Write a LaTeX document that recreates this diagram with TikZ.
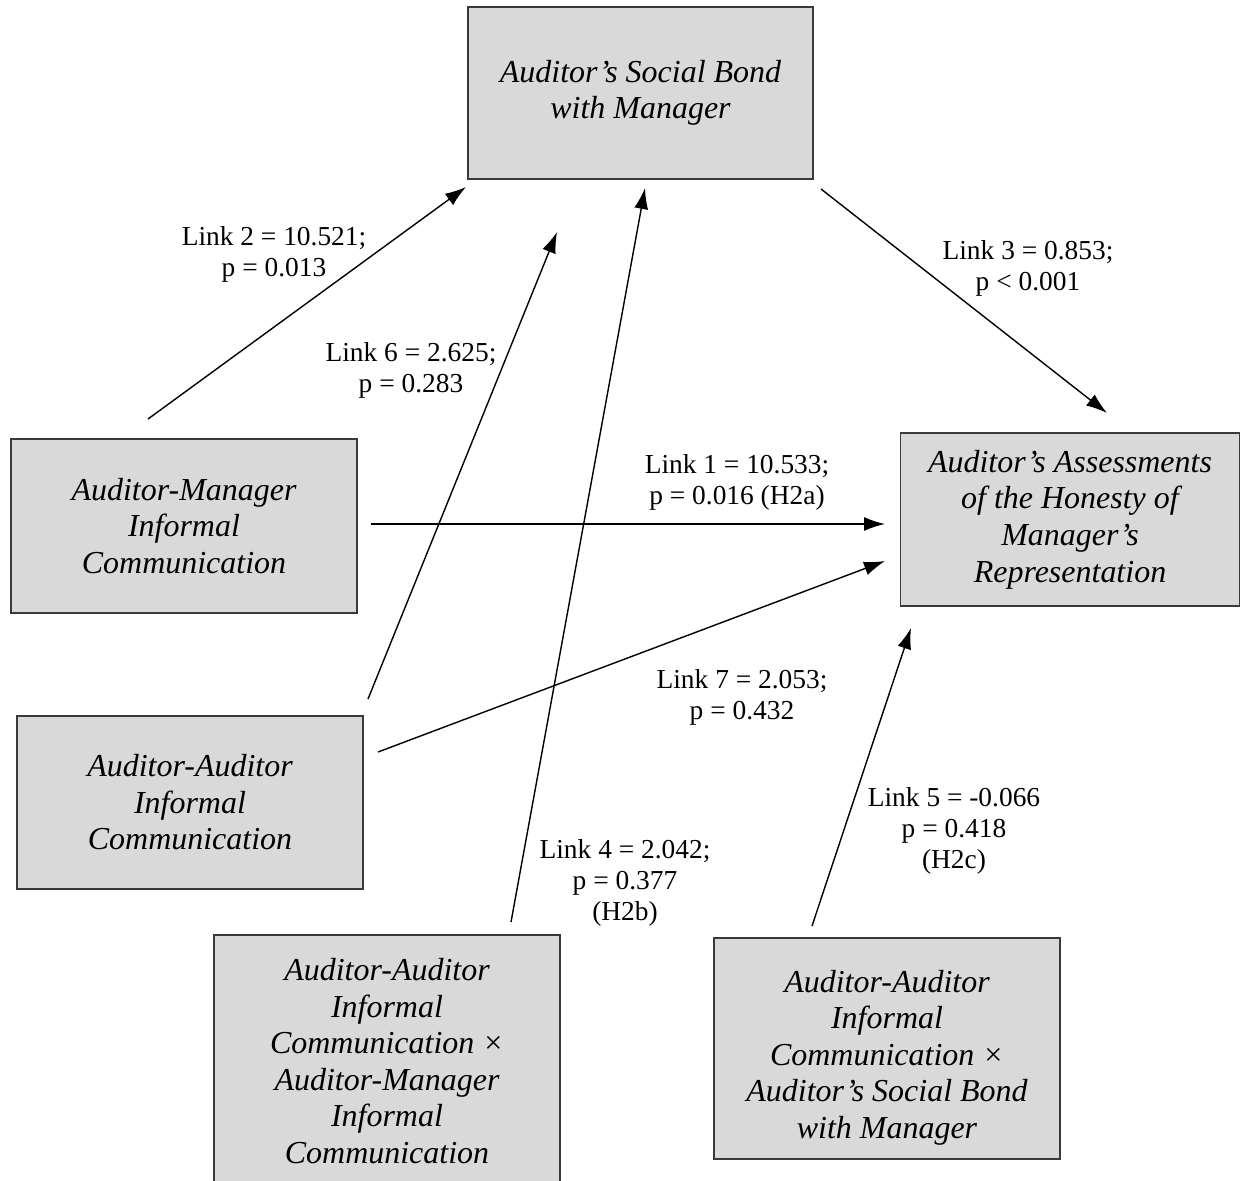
\documentclass[tikz,border=0pt]{standalone}
\usepackage{fontspec}
\setmainfont{Liberation Serif}
\usetikzlibrary{arrows.meta,positioning}

\definecolor{boxgray}{HTML}{D9D9D9}
\definecolor{edgegray}{HTML}{3A3A3A}

\tikzset{
  factor/.style={draw=edgegray, line width=0.8pt, fill=boxgray, align=center,
    inner sep=0pt, font=\fontsize{18.2}{20.8}\selectfont\itshape},
  est/.style={align=center, inner sep=0pt, font=\fontsize{15.6}{17.6}\selectfont},
  link/.style={-{Latex[length=4.2mm,width=2.8mm]}, line width=0.8pt}
}

\begin{document}
\begin{tikzpicture}[x=0.02cm, y=-0.02cm]
    \useasboundingbox (0,0) rectangle (1243,1180);

    % the constructs
    \node[factor, minimum width=6.9cm, minimum height=3.44cm] (bond) at (640.5,93)
        {Auditor’s Social Bond\\with Manager};
    \node[factor, minimum width=6.78cm, minimum height=3.46cm] (honesty) at (1070,519.5)
        {Auditor’s Assessments\\of the Honesty of\\Manager’s\\Representation};
    \node[factor, minimum width=6.92cm, minimum height=3.48cm] (amic) at (184,526)
        {Auditor-Manager\\Informal\\Communication};
    \node[factor, minimum width=6.92cm, minimum height=3.46cm] (aaic) at (190,802.5)
        {Auditor-Auditor\\Informal\\Communication};
    \node[factor, minimum width=6.92cm, minimum height=5.04cm] (aaxam) at (387,1061)
        {Auditor-Auditor\\Informal\\Communication ×\\Auditor-Manager\\Informal\\Communication};
    \node[factor, minimum width=6.92cm, minimum height=4.42cm] (aaxbond) at (887,1048.5)
        {\rule{0pt}{23pt}Auditor-Auditor\\Informal\\Communication ×\\Auditor’s Social Bond\\with Manager};

    % free ends of the links
    \coordinate (l1s) at (371,524);  \coordinate (l1e) at (885,524);
    \coordinate (l2s) at (148,419);  \coordinate (l2e) at (466,187);
    \coordinate (l3s) at (821,189);  \coordinate (l3e) at (1107,413);
    \coordinate (l4s) at (511,922);  \coordinate (l4e) at (645,188);
    \coordinate (l5s) at (812,926);  \coordinate (l5e) at (911,628);
    \coordinate (l6s) at (368,699);  \coordinate (l6e) at (557,232);
    \coordinate (l7s) at (378,752);  \coordinate (l7e) at (885,561);

    \draw[link] (l1s) -- (l1e);
    \draw[link] (l2s) -- (l2e);
    \draw[link] (l3s) -- (l3e);
    \draw[link] (l4s) -- (l4e);
    \draw[link] (l5s) -- (l5e);
    \draw[link] (l6s) -- (l6e);
    \draw[link] (l7s) -- (l7e);

    % path estimates
    \node[est] (e1) at (737,482) {Link 1 = 10.533;\\p = 0.016 (H2a)};
    \node[est] (e2) at (274,254) {Link 2 = 10.521;\\p = 0.013};
    \node[est] (e3) at (1028,268) {Link 3 = 0.853;\\p < 0.001};
    \node[est] (e4) at (625,883) {Link 4 = 2.042;\\p = 0.377\\(H2b)};
    \node[est] (e5) at (954,831) {Link 5 = -0.066\\p = 0.418\\(H2c)};
    \node[est] (e6) at (411,370) {Link 6 = 2.625;\\p = 0.283};
    \node[est] (e7) at (742,697) {Link 7 = 2.053;\\p = 0.432};
\end{tikzpicture}
\end{document}
